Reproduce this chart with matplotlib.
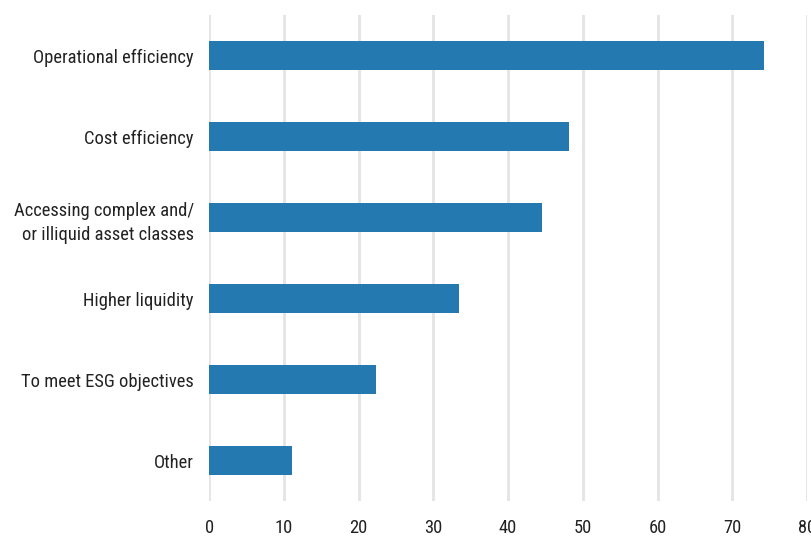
import matplotlib as mlp
mlp.use('Agg')
import matplotlib.pyplot as plt

categories = ['Operational efficiency', 'Cost efficiency',
              'Accessing complex and/\nor illiquid asset classes',
              'Higher liquidity', 'To meet ESG objectives', 'Other']
values = [74.2, 48.2, 44.5, 33.4, 22.3, 11.1]
xticks = [0, 10, 20, 30, 40, 50, 60, 70, 80]

plt.rcParams['font.family'] = ['Roboto Condensed', 'Roboto', 'DejaVu Sans']

fig = plt.figure(figsize=(8.11, 5.40), dpi=100)
ax = fig.add_axes([0.258, 0.072, 0.737, 0.900])

pos = list(range(len(categories)))
ax.barh(pos, values, height=0.35, color='#2479b0', zorder=3)

ax.set_xlim(0, 80)
ax.set_ylim(5.5, -0.5)
ax.set_xticks(xticks)
ax.set_yticks(pos)
ax.set_yticklabels(categories, fontsize=13.3, color='#222222', linespacing=1.45)
ax.tick_params(axis='x', length=0, pad=13, labelsize=13.3, labelcolor='#222222')
ax.tick_params(axis='y', length=0, pad=11)
ax.grid(axis='x', color='#e4e4e4', linewidth=2, zorder=0)
for s in ax.spines.values():
    s.set_visible(False)

plt.savefig('out.png', dpi=100)
